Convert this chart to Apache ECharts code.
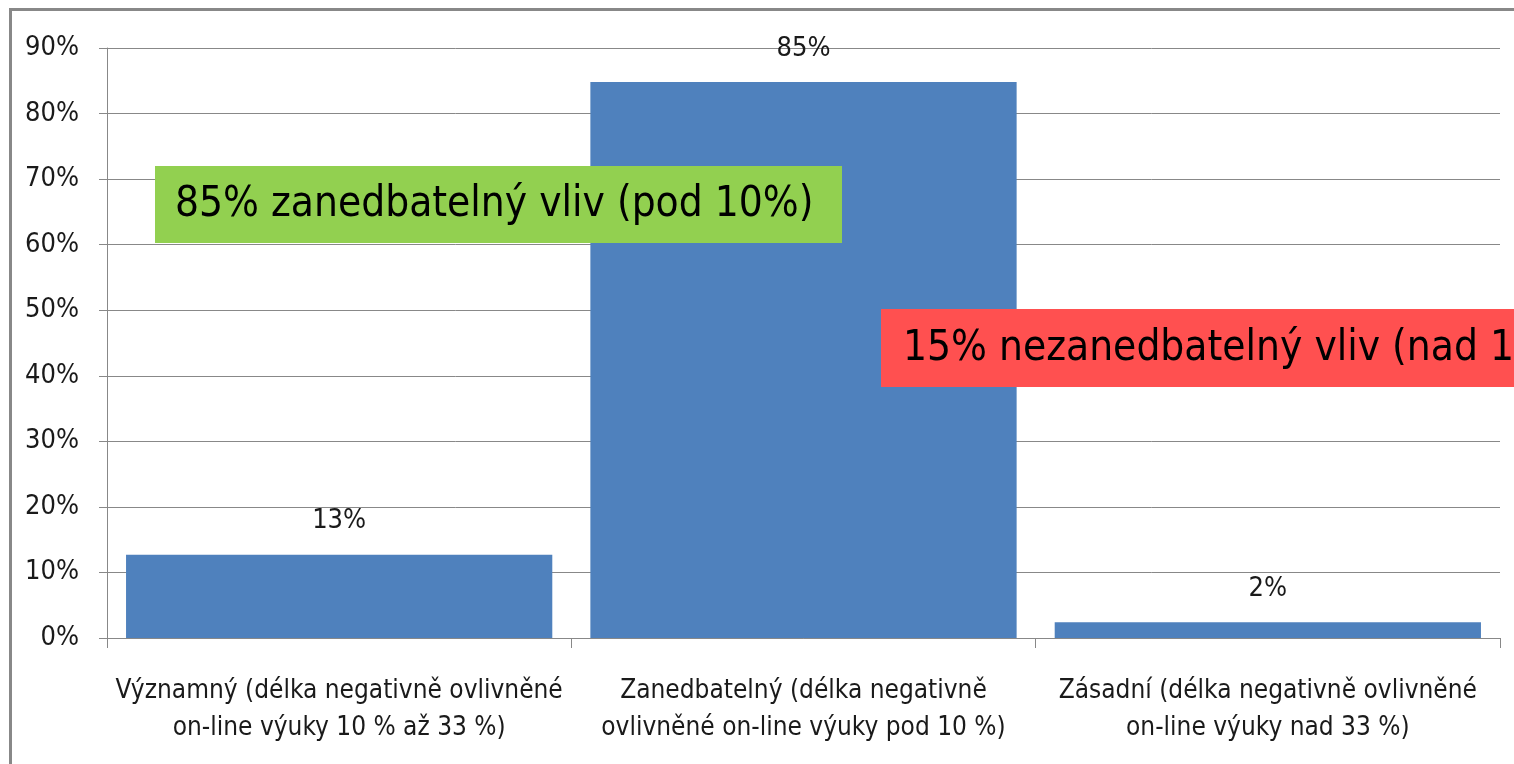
<!DOCTYPE html>
<html>
<head>
<meta charset="utf-8">
<script src="https://cdn.jsdelivr.net/npm/echarts@6/dist/echarts.min.js"></script>
<style>
html,body{margin:0;padding:0;background:#fff;}
#c{width:1514px;height:764px;}
</style>
</head>
<body>
<div id="c"></div>
<script>
const categories = [
  "Významný (délka negativně ovlivněné\non-line výuky 10 % až 33 %)",
  "Zanedbatelný (délka negativně\novlivněné on-line výuky pod 10 %)",
  "Zásadní (délka negativně ovlivněné\non-line výuky nad 33 %)"
];
const values = [12.7, 84.8, 2.4];
const yTicks = { min: 0, max: 90, interval: 10 };
const noteGreen = "85% zanedbatelný vliv (pod 10%)";
const noteRed = "15% nezanedbatelný vliv (nad 10%)";

const FONT = '"DejaVu Sans Condensed", "Liberation Sans Narrow", "Liberation Sans", sans-serif';
const chart = echarts.init(document.getElementById('c'), null, { renderer: 'canvas' });
chart.setOption({
  animation: false,
  backgroundColor: '#fff',
  grid: { left: 107, right: 14, top: 48, bottom: 126, containLabel: false },
  xAxis: {
    type: 'category',
    data: categories,
    axisLine: { show: true, lineStyle: { color: '#888', width: 1 } },
    axisTick: { show: true, alignWithLabel: false, length: 10, lineStyle: { color: '#888' } },
    axisLabel: { fontFamily: FONT, fontSize: 26, color: '#1a1a1a', lineHeight: 37, margin: 35, interval: 0 },
    splitLine: { show: false }
  },
  yAxis: {
    type: 'value',
    min: yTicks.min, max: yTicks.max, interval: yTicks.interval,
    axisLine: { show: true, lineStyle: { color: '#888', width: 1 } },
    axisTick: { show: true, length: 8, lineStyle: { color: '#888' } },
    axisLabel: { formatter: '{value}%', fontFamily: FONT, fontSize: 27, color: '#1a1a1a', margin: 28 },
    splitLine: { show: true, lineStyle: { color: '#888', width: 1 } }
  },
  series: [{
    type: 'bar',
    data: values,
    barCategoryGap: '8.2%',
    itemStyle: { color: '#4F81BD' },
    label: {
      show: true, position: 'top', distance: 20,
      formatter: p => Math.round(p.value) + '%',
      fontFamily: FONT, fontSize: 27, color: '#1a1a1a'
    }
  }],
  graphic: [
    { type: 'rect', shape: { x: 10.5, y: 9.5, width: 1700, height: 1000 }, style: { fill: 'none', stroke: '#888', lineWidth: 3 }, z: 100 },
    { type: 'rect', shape: { x: 155, y: 166, width: 687, height: 77 }, style: { fill: '#92D050' }, z: 110 },
    { type: 'text', x: 175, y: 205, style: { text: noteGreen, font: '42px ' + FONT, fill: '#000', textVerticalAlign: 'middle' }, z: 111 },
    { type: 'rect', shape: { x: 881, y: 309, width: 800, height: 78 }, style: { fill: '#FF5050' }, z: 110 },
    { type: 'text', x: 903, y: 349, style: { text: noteRed, font: '42px ' + FONT, fill: '#000', textVerticalAlign: 'middle' }, z: 111 }
  ]
});
</script>
</body>
</html>
